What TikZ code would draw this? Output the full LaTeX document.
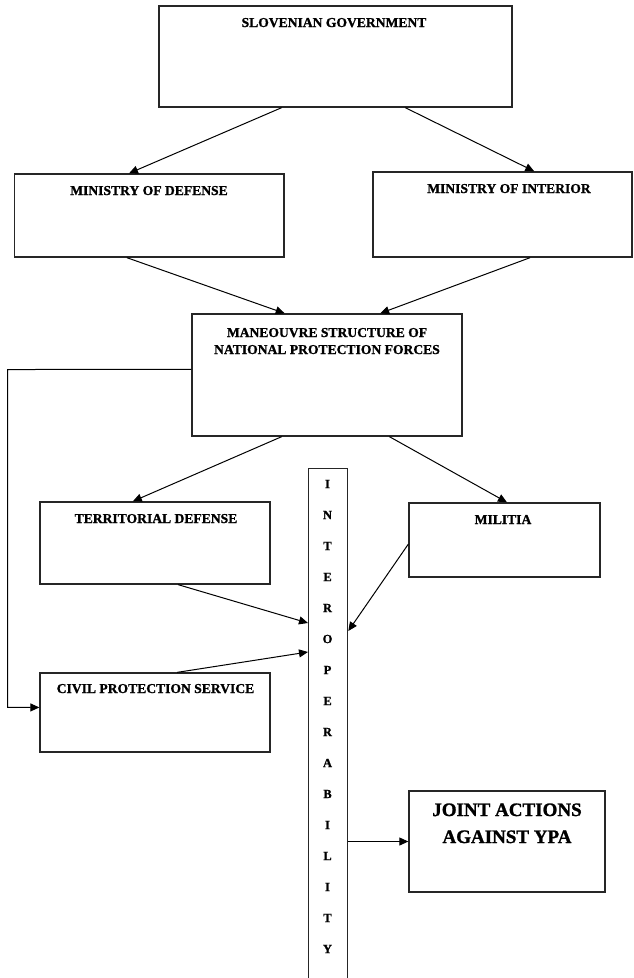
\documentclass[tikz,border=0pt]{standalone}
\usepackage{fontspec}
\setmainfont{Liberation Serif}[BoldFeatures={FakeBold=1.2}]
\usetikzlibrary{arrows.meta,calc}
\tikzset{
  box/.style={draw=black!85,line width=1.3pt,rectangle,inner sep=0pt,fill=white},
  lbl/.style={font=\bfseries\fontsize{13.6}{17}\selectfont,anchor=base,inner sep=0pt},
  big/.style={font=\bfseries\fontsize{19}{27}\selectfont,anchor=base,inner sep=0pt},
  ltr/.style={font=\bfseries\fontsize{12.5}{12}\selectfont,anchor=center,inner sep=0pt},
  arr/.style={draw=black,line width=1pt,-{Triangle[length=9pt,width=8pt]}}
}
\begin{document}
\begin{tikzpicture}[x=1pt,y=-1pt]
\useasboundingbox[fill=white] (0,0) rectangle (634,978);
% boxes
\node[box,minimum width=353pt,minimum height=101pt] (gov) at (335.5,56.5) {};
\node[box,minimum width=269.4pt,minimum height=83pt] (mod) at (149.3,215.5) {};
\node[box,minimum width=259pt,minimum height=85pt] (moi) at (502.5,214.5) {};
\node[box,minimum width=270pt,minimum height=122pt] (man) at (327,375) {};
\node[box,minimum width=230pt,minimum height=82pt] (td) at (155,543) {};
\node[box,minimum width=191pt,minimum height=74pt] (mil) at (504.5,540) {};
\node[box,minimum width=230pt,minimum height=79pt] (cps) at (155,712.5) {};
\node[box,minimum width=196pt,minimum height=101pt] (joint) at (507,841.5) {};
\node[box,minimum width=39pt,minimum height=530pt,anchor=north west] (bar) at (308,468) {};
% texts
\node[lbl] (tgov) at (334,27) {SLOVENIAN GOVERNMENT};
\node[lbl] (tmod) at (149,195) {MINISTRY OF DEFENSE};
\node[lbl] (tmoi) at (509,193) {MINISTRY OF INTERIOR};
\node[lbl] (tman1) at (327,337) {MANEOUVRE STRUCTURE OF};
\node[lbl] (tman2) at (327,354) {NATIONAL PROTECTION FORCES};
\node[lbl] (ttd) at (156,523) {TERRITORIAL DEFENSE};
\node[lbl] (tmil) at (503,524) {MILITIA};
\node[lbl] (tcps) at (155.5,693) {CIVIL PROTECTION SERVICE};
\node[big] (tj1) at (507,816) {JOINT ACTIONS};
\node[big] (tj2) at (507,843) {AGAINST YPA};
\foreach \L [count=\i from 0] in {I,N,T,E,R,O,P,E,R,A,B,I,L,I,T,Y}{
  \node[ltr] (l\i) at (327.5,484+31*\i) {\L};
}
% connectors
\draw[arr] ($(gov.south west)!0.348!(gov.south east)$) -- ($(mod.north west)!0.425!(mod.north east)$);
\draw[arr] ($(gov.south west)!0.697!(gov.south east)$) -- ($(moi.north west)!0.622!(moi.north east)$);
\draw[arr] ($(mod.south west)!0.417!(mod.south east)$) -- ($(man.north west)!0.344!(man.north east)$);
\draw[arr] ($(moi.south west)!0.606!(moi.south east)$) -- ($(man.north west)!0.696!(man.north east)$);
\draw[arr] ($(man.south west)!0.333!(man.south east)$) -- ($(td.north west)!0.404!(td.north east)$);
\draw[arr] ($(man.south west)!0.73!(man.south east)$) -- ($(mil.north west)!0.513!(mil.north east)$);
\coordinate (fb) at (7.5,369.5);
\draw[arr] ($(man.north west)!0.455!(man.south west)$) -- (fb) |- ($(cps.north west)!0.437!(cps.south west)$);
\draw[arr] ($(td.south west)!0.6!(td.south east)$) -- ($(bar.north west)+(0,155)$);
\draw[arr] ($(cps.north west)!0.596!(cps.north east)$) -- ($(bar.north west)+(0,184)$);
\draw[arr] ($(mil.north west)!0.554!(mil.south west)$) -- ($(bar.north east)+(0,163)$);
\draw[arr] ($(bar.north east)+(0,373.5)$) -- ($(joint.north west)!0.5!(joint.south west)$);
\end{tikzpicture}
\end{document}
